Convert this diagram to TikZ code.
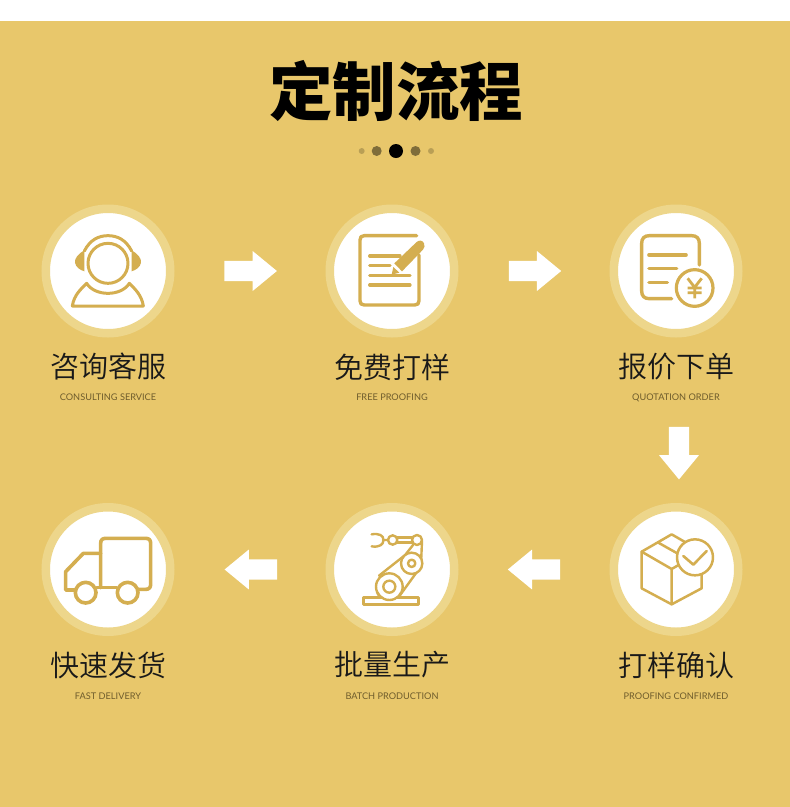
\documentclass[tikz,border=0pt]{standalone}
\usepackage{fontspec}
\usetikzlibrary{shapes.arrows,calc}
\newfontfamily\cjkreg{Noto Sans CJK SC DemiLight}
\newfontfamily\cjkbold{Noto Sans CJK SC Black}
\setmainfont{Lato}
\definecolor{gold}{HTML}{E8C76B}
\definecolor{halo}{HTML}{EDD68B}
\definecolor{icon}{HTML}{D4AE50}
\definecolor{entext}{HTML}{6E5C2C}
\tikzset{
  stepcircle/.style={circle,fill=white,draw=halo,line width=8.5pt,minimum size=124.5pt,inner sep=0pt,outer sep=0pt},
  cnlabel/.style={font=\cjkreg\fontsize{29}{30}\selectfont,text=black!90,inner sep=0pt},
  enlabel/.style={font=\fontsize{9.2}{11}\selectfont,text=entext,inner sep=0pt,anchor=base},
  flowarrow/.style={single arrow,fill=white,draw=none,inner xsep=0pt,inner ysep=10pt,outer sep=0pt,
    minimum width=39.5pt,minimum height=52.4pt,single arrow head extend=9.75pt,single arrow tip angle=79},
  dotmark/.style={circle,inner sep=0pt,outer sep=0pt,draw=none},
  ic/.style={draw=icon,line width=3pt,line join=round,line cap=round},
  zoomed/.style={x=0.33333pt,y=-0.33333pt}
}
\begin{document}
\begin{tikzpicture}[x=1pt,y=-1pt]
\useasboundingbox (0,0) rectangle (790,807);
\fill[white] (0,0) rectangle (790,21);
\fill[gold] (0,21) rectangle (790,807);
\node[font=\cjkbold\fontsize{63.5}{64}\selectfont,text=black,inner sep=0pt] (title) at (396,91) {定制流程};
\node[dotmark,fill=black,opacity=.2,minimum size=6pt] (d1) at (361.7,151) {};
\node[dotmark,fill=black,opacity=.45,minimum size=10pt] (d2) at (376.7,151) {};
\node[dotmark,fill=black,minimum size=14pt] (d3) at (396,151) {};
\node[dotmark,fill=black,opacity=.45,minimum size=10pt] (d4) at (415.5,151) {};
\node[dotmark,fill=black,opacity=.2,minimum size=6pt] (d5) at (431,151) {};
% circles
\node[stepcircle] (c1) at (108,271) {};
\node[stepcircle] (c2) at (392,271) {};
\node[stepcircle] (c3) at (676,271) {};
\node[stepcircle] (c4) at (676,569.5) {};
\node[stepcircle] (c5) at (392,569.5) {};
\node[stepcircle] (c6) at (108,569.5) {};
% labels
\node[cnlabel] (t1) at (108,367) {咨询客服};
\node[cnlabel] (t2) at (392,367) {免费打样};
\node[cnlabel] (t3) at (676,367) {报价下单};
\node[cnlabel] (t4) at (676,665) {打样确认};
\node[cnlabel] (t5) at (392,665) {批量生产};
\node[cnlabel] (t6) at (108,665) {快速发货};
\node[enlabel] (e1) at (108,400.5) {CONSULTING SERVICE};
\node[enlabel] (e2) at (392,400.5) {FREE PROOFING};
\node[enlabel] (e3) at (676,400.5) {QUOTATION ORDER};
\node[enlabel] (e4) at (676,699) {PROOFING CONFIRMED};
\node[enlabel] (e5) at (392,699) {BATCH PRODUCTION};
\node[enlabel] (e6) at (108,699) {FAST DELIVERY};
% arrows
\node[flowarrow] (a1) at ($(c1)!.5!(c2)+(-5.5,0)$) {};
\node[flowarrow] (a2) at ($(c2)!.5!(c3)+(-5.2,0)$) {};
\node[flowarrow,rotate=-90] (a3) at (679,447) {};
\node[flowarrow,rotate=180] (a4) at ($(c5)!.5!(c4)+(6.2,0)$) {};
\node[flowarrow,rotate=180] (a5) at ($(c6)!.5!(c5)+(7,0)$) {};
% icon 1: headset
\begin{scope}[shift={(30,195)},zoomed]
  \fill[icon] (163,166) .. controls (145,176) and (133,190) .. (135,203) .. controls (137,216) and (150,225) .. (163,229) -- cycle;
  \fill[icon] (305,166) .. controls (323,176) and (335,190) .. (333,203) .. controls (331,216) and (318,225) .. (305,229) -- cycle;
  \draw[ic] (234,205) circle[radius=60];
  \draw[ic] (163,168) .. controls (180,135) and (205,122) .. (234,122) .. controls (263,122) and (288,135) .. (305,168);
  \draw[ic] (170,265) .. controls (195,305) and (273,305) .. (298,265) .. controls (315,282) and (335,300) .. (340,333) -- (127,333) .. controls (132,300) and (153,282) .. (170,265) -- cycle;
\end{scope}
% icon 2: document and pen
\begin{scope}[shift={(355,230)},zoomed]
  \draw[ic,line width=3.4pt] (192,75) -- (192,212) .. controls (192,221) and (188,225) .. (179,225) -- (28,225) .. controls (19,225) and (15,221) .. (15,212) -- (15,30) .. controls (15,21) and (19,17) .. (28,17) -- (185,17);
  \foreach \ya/\xe in {78/135,107/105,137/165,165/165}
    \draw[ic,line width=3.2pt] (44,\ya) -- (\xe,\ya);
  \fill[icon] (110,134) -- (115,111) -- (133,128) -- cycle;
  \fill[icon] (118,100) -- (185,36) .. controls (193,29) and (203,31) .. (207,40) .. controls (210,47) and (209,54) .. (204,59) -- (141,124) -- cycle;
\end{scope}
% icon 3: invoice
\begin{scope}[shift={(600,195)},zoomed]
  \draw[ic,line width=3.4pt] (298,210) -- (298,145) .. controls (298,130) and (290,122) .. (275,122) -- (148,122) .. controls (133,122) and (125,130) .. (125,145) -- (125,288) .. controls (125,303) and (133,311) .. (148,311) -- (215,311);
  \draw[ic,line width=3.6pt] (147,180) -- (258,180);
  \draw[ic,line width=3.6pt] (147,221) -- (230,221);
  \draw[ic,line width=3.6pt] (147,262) -- (202,262);
  \draw[ic,line width=3.2pt,fill=white] (284,279) circle[radius=55];
  \draw[ic,line width=2.8pt,line cap=butt] (263,250) -- (284,277) -- (305,250) (284,277) -- (284,310) (263,279) -- (305,279) (263,293) -- (305,293);
\end{scope}
% icon 4: box with check
\begin{scope}[shift={(600,495)},zoomed]
  \draw[ic,line width=2.5pt] (125,170) -- (215,118) -- (305,170) -- (305,280) -- (215,328) -- (125,280) -- cycle;
  \draw[ic,line width=2.5pt] (125,170) -- (215,222) -- (215,328) (215,222) -- (305,170) (175,143) -- (262,192);
  \draw[ic,line width=2.5pt,fill=white] (285,187) circle[radius=54];
  \draw[ic,line width=2.6pt] (250,183) -- (280,209) -- (320,168);
\end{scope}
% icon 5: robot arm
\begin{scope}[shift={(355,525)},zoomed]
  \draw[ic,line width=2.4pt] (25,217) rectangle (190,238);
  \draw[ic,line width=2.4pt] (72,152) -- (148,92);
  \draw[ic,line width=2.4pt] (132,215) -- (197,125);
  \draw[ic,line width=2.4pt] (174,60) -- (145,97);
  \draw[ic,line width=2.4pt] (201,48) -- (198,118);
  \draw[ic,line width=2.4pt] (70,210) -- (66,200) (132,215) -- (138,190);
  \draw[ic,line width=2.4pt,fill=white] (103,185) circle[radius=40];
  \draw[ic,line width=2.4pt] (103,185) circle[radius=18];
  \draw[ic,line width=2.4pt,fill=white] (170,115) circle[radius=32];
  \draw[ic,line width=2.4pt] (170,115) circle[radius=11];
  \draw[ic,line width=2.4pt] (127,38) -- (172,38) (127,52) -- (172,52);
  \draw[ic,line width=2.4pt,fill=white] (186,45) circle[radius=15];
  \draw[ic,line width=2.4pt,fill=white] (113,45) circle[radius=14];
  \draw[ic,line width=2.4pt] (99,45) -- (85,45) (50,28) .. controls (72,24) and (87,32) .. (85,45) .. controls (87,58) and (72,68) .. (50,64);
\end{scope}
% icon 6: truck
\begin{scope}[shift={(30,495)},zoomed]
  \draw[ic,line width=3.6pt] (212,278) -- (212,145) .. controls (212,135) and (217,130) .. (227,130) -- (347,130) .. controls (357,130) and (362,135) .. (362,145) -- (362,268) .. controls (362,278) and (357,283) .. (347,283) -- (325,283);
  \draw[ic,line width=3.6pt] (212,175) -- (160,175) -- (107,230) -- (107,285) -- (135,285);
  \draw[ic,line width=3.6pt] (200,278) -- (260,278);
  \draw[ic,line width=3.6pt,fill=white] (167,293) circle[radius=31];
  \draw[ic,line width=3.6pt,fill=white] (293,293) circle[radius=31];
\end{scope}
\end{tikzpicture}
\end{document}
